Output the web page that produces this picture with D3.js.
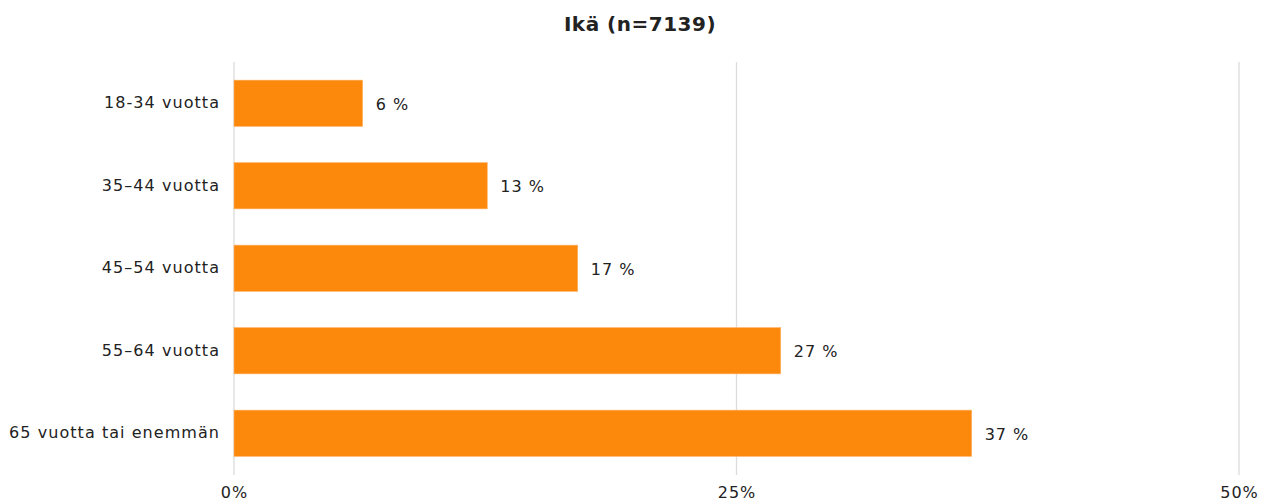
<!DOCTYPE html>
<html><head><meta charset="utf-8">
<script src="https://cdn.jsdelivr.net/npm/d3@7"></script>
<style>body{margin:0;background:#fff;} text{font-family:"DejaVu Sans",sans-serif;fill:#222;}</style>
</head><body><svg id="c" width="1270" height="502"></svg>
<script>
const categories = ["18-34 vuotta","35\u201344 vuotta","45\u201354 vuotta","55\u201364 vuotta","65 vuotta tai enemmän"];
const values = [6.4, 12.6, 17.1, 27.2, 36.7];
const valueLabels = ["6 %","13 %","17 %","27 %","37 %"];
const ticks = [0, 25, 50];
const tickLabels = ["0%","25%","50%"];
const title = "Ikä (n=7139)";

const svg = d3.select("#c");
const x = d3.scaleLinear().domain([0,50]).range([234,1239]);
const y = d3.scaleBand().domain(categories).range([62,474.5]).paddingInner(0.44).paddingOuter(0.22);

svg.append("text").attr("x",640).attr("y",31).attr("text-anchor","middle")
  .style("font-size","20px").style("font-weight","bold").style("letter-spacing","0.5px").text(title);

svg.append("g").selectAll("line").data(ticks).join("line")
  .attr("x1",d=>x(d)).attr("x2",d=>x(d)).attr("y1",62).attr("y2",475)
  .attr("stroke","#dcdcdc").attr("stroke-width",1.3);

const xa = svg.append("g").attr("transform","translate(0,475)")
  .call(d3.axisBottom(x).tickValues(ticks).tickFormat((d,i)=>tickLabels[i]).tickSize(0).tickPadding(12));
xa.select(".domain").remove();
xa.selectAll("text").style("font-size","16px").style("font-family","DejaVu Sans").style("letter-spacing","1px").attr("fill","#222");

const ya = svg.append("g").attr("transform","translate(220,0)")
  .call(d3.axisLeft(y).tickSize(0).tickPadding(0));
ya.select(".domain").remove();
ya.selectAll("text").style("font-size","16px").style("font-family","DejaVu Sans").style("letter-spacing","1.05px").attr("fill","#222");

svg.append("g").selectAll("rect").data(values).join("rect")
  .attr("x",x(0)).attr("y",(d,i)=>y(categories[i])).attr("width",d=>x(d)-x(0)).attr("height",y.bandwidth())
  .attr("fill","#fd890c").attr("stroke","#ffb060").attr("stroke-width",0.6);

svg.append("g").selectAll("text").data(values).join("text")
  .attr("x",d=>x(d)+13).attr("y",(d,i)=>y(categories[i])+y.bandwidth()/2+1).attr("dy","0.35em")
  .style("font-size","16px").style("letter-spacing","1px").text((d,i)=>valueLabels[i]);
</script></body></html>
